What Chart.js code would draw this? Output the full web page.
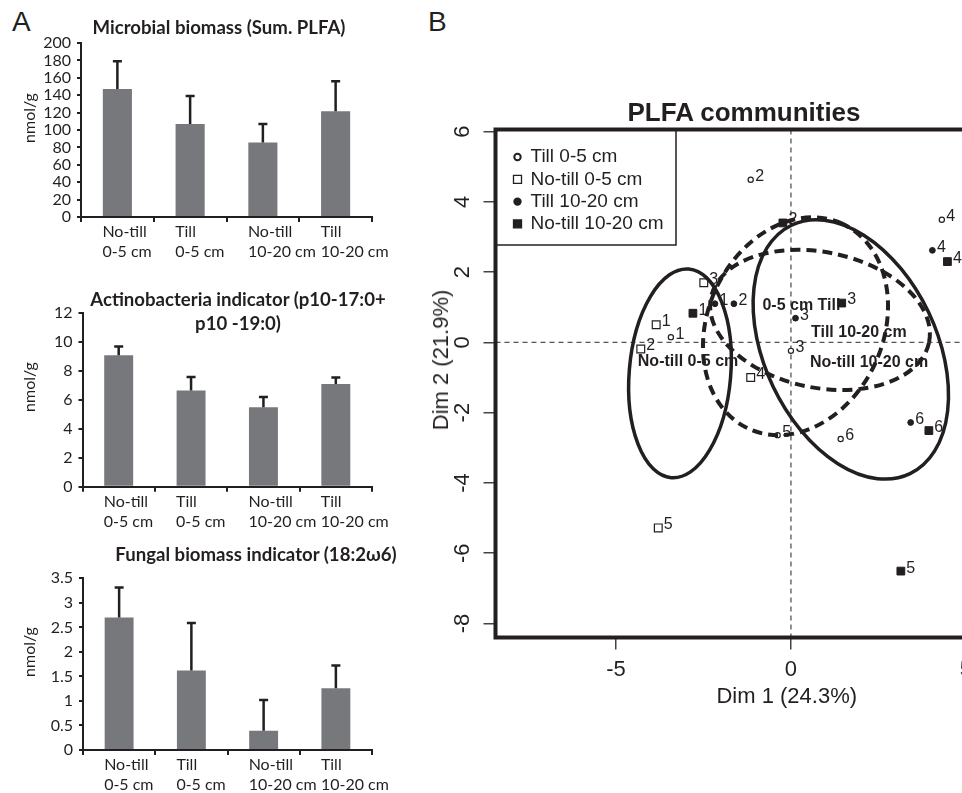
<!DOCTYPE html>
<html lang="en">
<head>
<meta charset="UTF-8">
<title>PLFA</title>
<script src="https://cdn.jsdelivr.net/npm/chart.js"></script>
<style>
    html, body { margin: 0; padding: 0; background: #fff; overflow: hidden; }
    body { width: 962px; height: 793px; position: relative; color: #231f20; }
    canvas { position: absolute; }
    .ttl { position: absolute; font-family: Lato, sans-serif; font-weight: bold; font-size: 18.6px; line-height: 24px;
           text-align: center; white-space: nowrap; transform: translate(-50%, -50%); }
    .ylab { position: absolute; font-family: Lato, sans-serif; font-size: 16px; line-height: 16px; white-space: nowrap;
            transform: translate(-50%, -50%) rotate(-90deg); }
    .letter { position: absolute; font-family: "Liberation Sans", Arial, sans-serif; font-size: 28px; line-height: 28px; }
    .big { position: absolute; font-family: "Liberation Sans", Arial, sans-serif; font-weight: bold; font-size: 26px;
           line-height: 26px; white-space: nowrap; transform: translate(-50%, -50%); }
    .dim { position: absolute; font-family: "Liberation Sans", Arial, sans-serif; font-size: 22px; line-height: 22px;
           white-space: nowrap; transform: translate(-50%, -50%) rotate(-90deg); }
</style>
</head>
<body>
    <div class="letter" style="left:12px;top:8px">A</div>
    <div class="letter" style="left:428px;top:8px">B</div>

    <canvas id="bar1" width="420" height="270" style="left:0;top:0"></canvas>
    <canvas id="bar2" width="420" height="270" style="left:0;top:262px"></canvas>
    <canvas id="bar3" width="420" height="270" style="left:0;top:528px"></canvas>
    <canvas id="pca" width="700" height="793" style="left:420px;top:0"></canvas>

    <div class="ttl" style="left:219px;top:27px">Microbial biomass (Sum. PLFA)</div>
    <div class="ttl" style="left:238px;top:311px">Actinobacteria indicator (p10-17:0+<br>p10 -19:0)</div>
    <div class="ttl" style="left:256px;top:554px">Fungal biomass indicator (18:2ω6)</div>
    <div class="ylab" style="left:29px;top:118px">nmol/g</div>
    <div class="ylab" style="left:29px;top:387px">nmol/g</div>
    <div class="ylab" style="left:29px;top:652px">nmol/g</div>
    <div class="big" style="left:744px;top:112px">PLFA communities</div>
    <div class="dim" style="left:441px;top:360px">Dim 2 (21.9%)</div>

<script>
// --- panel A: bar charts ---
const conditions = [['No-till', '0-5 cm'], ['Till', '0-5 cm'], ['No-till', '10-20 cm'], ['Till', '10-20 cm']];
const biomassMean = [147, 107, 85.5, 121.5];
const biomassErr = [32, 32, 21.5, 34.5];
const actinoMean = [9.1, 6.65, 5.5, 7.1];
const actinoErr = [0.6, 0.95, 0.7, 0.45];
const fungalMean = [2.7, 1.62, 0.39, 1.26];
const fungalErr = [0.61, 0.97, 0.63, 0.46];

// --- panel B: PCA scores (Dim 1, Dim 2) and sample numbers ---
const groupNames = ['Till 0-5 cm', 'No-till 0-5 cm', 'Till 10-20 cm', 'No-till 10-20 cm'];
const till05Dim1 = [-3.43, -1.15, 0.0, 4.31, -0.38, 1.42];
const till05Dim2 = [0.15, 4.63, -0.24, 3.49, -2.64, -2.75];
const till05Ids = ['1', '2', '3', '4', '5', '6'];
const notill05Dim1 = [-3.85, -4.29, -2.49, -1.15, -3.79];
const notill05Dim2 = [0.50, -0.19, 1.70, -1.00, -5.28];
const notill05Ids = ['1', '2', '3', '4', '5'];
const till1020Dim1 = [-2.17, -1.63, 0.13, 4.04, 3.42];
const till1020Dim2 = [1.10, 1.10, 0.69, 2.62, -2.28];
const till1020Ids = ['1', '2', '3', '4', '6'];
const notill1020Dim1 = [-2.80, -0.23, 1.45, 4.47, 3.14, 3.94];
const notill1020Dim2 = [0.83, 3.40, 1.12, 2.30, -6.51, -2.51];
const notill1020Ids = ['1', '2', '3', '4', '5', '6'];

// confidence ellipses (data units, angle of major axis in degrees)
const ellipseGroup = ['No-till 0-5 cm', 'Till 0-5 cm', 'Till 10-20 cm', 'No-till 10-20 cm'];
const ellipseCx = [-3.17, 0.13, 0.83, 1.71];
const ellipseCy = [-0.88, 0.46, 0.64, -0.20];
const ellipseA = [2.98, 3.21, 3.18, 3.92];
const ellipseB = [1.45, 2.51, 1.93, 2.46];
const ellipseAngle = [85.2, 65.5, -11.5, 115.6];
const ellipseText = ['No-till 0-5 cm', '0-5 cm Till', 'Till 10-20 cm', 'No-till 10-20 cm'];
const ellipseTextX = [-2.94, 0.30, 1.94, 2.23];
const ellipseTextY = [-0.55, 1.04, 0.28, -0.58];

const xTicks = [-5, 0, 5];
const yTicks = [6, 4, 2, 0, -2, -4, -6, -8];

const INK = '#231f20';

// upper error bar with a cap
const errorBars = {
    id: 'errorBars',
    afterDatasetsDraw(chart) {
        const ctx = chart.ctx, ys = chart.scales.y;
        chart.data.datasets.forEach((ds, di) => {
            chart.getDatasetMeta(di).data.forEach((bar, i) => {
                const top = ys.getPixelForValue(ds.data[i] + ds.errs[i]);
                ctx.save();
                ctx.strokeStyle = INK;
                ctx.lineWidth = 2.5;
                ctx.beginPath();
                ctx.moveTo(bar.x, bar.y);
                ctx.lineTo(bar.x, top);
                ctx.moveTo(bar.x - 4.5, top);
                ctx.lineTo(bar.x + 4.5, top);
                ctx.stroke();
                ctx.restore();
            });
        });
    }
};

function barChart(id, means, errs, yMax, yStep, axisW, pad) {
    return new Chart(document.getElementById(id), {
        type: 'bar',
        data: {
            labels: conditions,
            datasets: [{
                data: means,
                errs: errs,
                backgroundColor: '#77787b',
                barPercentage: 0.8,
                categoryPercentage: 0.5
            }]
        },
        options: {
            responsive: false,
            animation: false,
            layout: { padding: pad },
            plugins: { legend: { display: false }, tooltip: { enabled: false } },
            scales: {
                x: {
                    grid: { drawOnChartArea: false, offset: true, tickLength: 5, color: INK, lineWidth: 2 },
                    border: { color: INK, width: 2 },
                    ticks: {
                        color: INK, font: { family: 'Lato', size: 16, lineHeight: 1.25 },
                        padding: 0, align: 'start', labelOffset: -15, maxRotation: 0, autoSkip: false
                    },
                    afterFit: s => { s.height = 45; }
                },
                y: {
                    min: 0, max: yMax,
                    grid: { drawOnChartArea: false, tickLength: 4, color: INK, lineWidth: 2 },
                    border: { color: INK, width: 2 },
                    ticks: {
                        stepSize: yStep, color: INK, padding: 6, autoSkip: false,
                        font: { family: 'Lato', size: 16 },
                        callback: v => String(v)
                    },
                    afterFit: s => { s.width = axisW; }
                }
            }
        },
        plugins: [errorBars]
    });
}

barChart('bar1', biomassMean, biomassErr, 200, 20, 81, { top: 43, right: 48, bottom: 8, left: 0 });
barChart('bar2', actinoMean, actinoErr, 12, 2, 82.5, { top: 51.3, right: 48, bottom: 0.3, left: 0 });
barChart('bar3', fungalMean, fungalErr, 3.5, 0.5, 83, { top: 50.3, right: 48, bottom: 3, left: 0 });

// ----- PCA plot -----
function pts(d1, d2) { return d1.map((x, i) => ({ x: x, y: d2[i] })); }

const zeroLines = {
    id: 'zeroLines',
    beforeDatasetsDraw(chart) {
        const { ctx, chartArea: a, scales: { x, y } } = chart;
        const px = x.getPixelForValue(0), py = y.getPixelForValue(0);
        ctx.save();
        ctx.strokeStyle = '#555';
        ctx.lineWidth = 1.3;
        ctx.setLineDash([5, 4]);
        ctx.beginPath();
        ctx.moveTo(px, a.top); ctx.lineTo(px, a.bottom);
        ctx.moveTo(a.left, py); ctx.lineTo(a.right, py);
        ctx.stroke();
        ctx.restore();
    }
};

const pointIds = {
    id: 'pointIds',
    afterDatasetsDraw(chart) {
        const ctx = chart.ctx;
        ctx.save();
        ctx.font = '16px "Liberation Sans", Arial, sans-serif';
        ctx.fillStyle = INK;
        ctx.textAlign = 'left';
        ctx.textBaseline = 'middle';
        chart.data.datasets.forEach((ds, di) => {
            chart.getDatasetMeta(di).data.forEach((pt, i) => {
                ctx.fillText(ds.ids[i], pt.x + (ds.pointStyle === 'rect' ? 5.5 : 4.5), pt.y - 3);
            });
        });
        ctx.restore();
    }
};

const ellipses = {
    id: 'ellipses',
    afterDatasetsDraw(chart) {
        const { ctx, scales: { x, y } } = chart;
        const kx = x.getPixelForValue(1) - x.getPixelForValue(0);
        const ky = y.getPixelForValue(0) - y.getPixelForValue(1);
        ctx.save();
        ctx.font = 'bold 16px "Liberation Sans", Arial, sans-serif';
        ctx.fillStyle = INK;
        ctx.textAlign = 'center';
        ctx.textBaseline = 'middle';
        ellipseText.forEach((t, i) => {
            ctx.fillText(t, x.getPixelForValue(ellipseTextX[i]), y.getPixelForValue(ellipseTextY[i]));
        });
        ctx.restore();

        ellipseGroup.forEach((g, i) => {
            ctx.save();
            ctx.beginPath();
            ctx.translate(x.getPixelForValue(ellipseCx[i]), y.getPixelForValue(ellipseCy[i]));
            ctx.scale(kx, -ky);
            ctx.rotate(ellipseAngle[i] * Math.PI / 180);
            ctx.ellipse(0, 0, ellipseA[i], ellipseB[i], 0, 0, 2 * Math.PI);
            ctx.restore();
            ctx.save();
            ctx.strokeStyle = INK;
            if (g.startsWith('Till')) {
                ctx.lineWidth = 4;
                ctx.setLineDash([10, 6]);
            } else {
                ctx.lineWidth = 3.5;
            }
            ctx.stroke();
            ctx.restore();
        });
    }
};

const frameLegend = {
    id: 'frameLegend',
    afterDraw(chart) {
        const { ctx, chartArea: a } = chart;
        ctx.save();
        // legend box
        ctx.strokeStyle = INK;
        ctx.lineWidth = 1.5;
        ctx.fillStyle = '#fff';
        ctx.fillRect(a.left, a.top, 180.5, 115.5);
        ctx.strokeRect(a.left, a.top, 180.5, 115.5);
        ctx.font = '19px "Liberation Sans", Arial, sans-serif';
        ctx.textBaseline = 'middle';
        ctx.textAlign = 'left';
        chart.data.datasets.forEach((ds, i) => {
            const cy = a.top + 27.5 + i * 22.3, cx = a.left + 22;
            ctx.beginPath();
            if (ds.pointStyle === 'rect') {
                ctx.rect(cx - 4, cy - 4, 8, 8);
            } else {
                ctx.arc(cx, cy, 3.2, 0, 2 * Math.PI);
            }
            ctx.fillStyle = ds.backgroundColor;
            ctx.fill();
            ctx.lineWidth = ds.pointStyle === 'rect' ? 1.3 : 2;
            ctx.strokeStyle = INK;
            ctx.stroke();
            ctx.fillStyle = INK;
            ctx.fillText(ds.label, cx + 13, cy);
        });
        // thick frame
        ctx.lineWidth = 4;
        ctx.strokeRect(a.left, a.top, a.right - a.left, a.bottom - a.top);
        ctx.restore();
    }
};

const tickFont = { family: '"Liberation Sans", Arial, sans-serif', size: 22 };

new Chart(document.getElementById('pca'), {
    type: 'scatter',
    data: {
        datasets: [
            { label: groupNames[0], data: pts(till05Dim1, till05Dim2), ids: till05Ids,
              pointStyle: 'circle', pointRadius: 2.6, borderWidth: 1.2, borderColor: INK, backgroundColor: '#fff' },
            { label: groupNames[1], data: pts(notill05Dim1, notill05Dim2), ids: notill05Ids,
              pointStyle: 'rect', pointRadius: 5.5, borderWidth: 1.2, borderColor: INK, backgroundColor: '#fff' },
            { label: groupNames[2], data: pts(till1020Dim1, till1020Dim2), ids: till1020Ids,
              pointStyle: 'circle', pointRadius: 2.9, borderWidth: 1, borderColor: INK, backgroundColor: INK },
            { label: groupNames[3], data: pts(notill1020Dim1, notill1020Dim2), ids: notill1020Ids,
              pointStyle: 'rect', pointRadius: 5.5, borderWidth: 1, borderColor: INK, backgroundColor: INK }
        ]
    },
    options: {
        responsive: false,
        animation: false,
        layout: { padding: { top: 129.5, right: 42, bottom: 75.5, left: 0 } },
        plugins: { legend: { display: false }, tooltip: { enabled: false } },
        scales: {
            x: {
                type: 'linear', min: -8.44, max: 8.2,
                afterBuildTicks: s => { s.ticks = xTicks.map(v => ({ value: v })); },
                grid: { drawOnChartArea: false, tickLength: 12, color: '#444', lineWidth: 1.5 },
                border: { display: false },
                ticks: { color: INK, font: tickFont, padding: 7, maxRotation: 0, callback: v => String(v) },
                title: { display: true, text: 'Dim 1 (24.3%)', color: INK, font: tickFont, padding: { bottom: 7.5 } },
                afterFit: s => { s.height = 80; }
            },
            y: {
                type: 'linear', min: -8.40, max: 6.06,
                afterBuildTicks: s => { s.ticks = yTicks.map(v => ({ value: v })); },
                grid: { drawOnChartArea: false, tickLength: 12, color: '#444', lineWidth: 1.5 },
                border: { display: false },
                ticks: { color: INK, font: tickFont, padding: 11, minRotation: 90, maxRotation: 90,
                         crossAlign: 'center', autoSkip: false, callback: v => String(v) },
                afterFit: s => { s.width = 75.5; }
            }
        }
    },
    plugins: [zeroLines, pointIds, ellipses, frameLegend]
});
</script>
</body>
</html>
